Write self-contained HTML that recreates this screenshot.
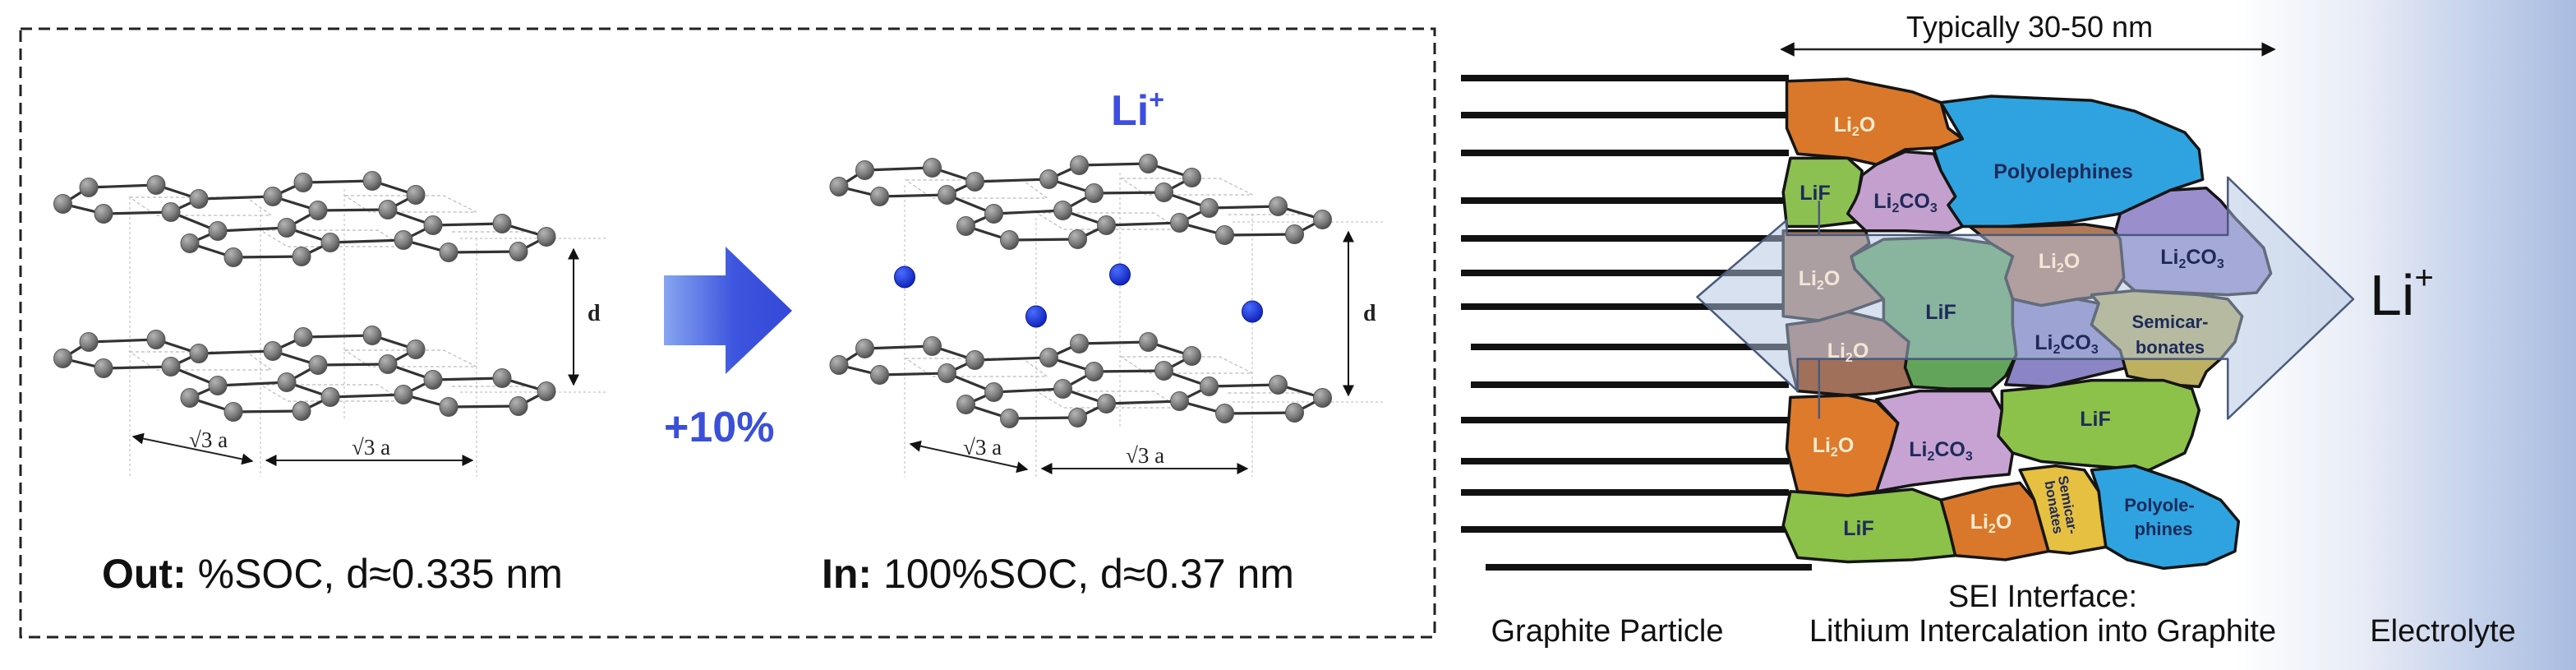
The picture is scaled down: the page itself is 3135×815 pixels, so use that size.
<!DOCTYPE html>
<html><head><meta charset="utf-8">
<style>
html,body{margin:0;padding:0;}
body{width:3135px;height:815px;overflow:hidden;position:relative;font-family:"Liberation Sans",sans-serif;
background:linear-gradient(to right,#ffffff 0px,#ffffff 2720px,#e6ebf5 2880px,#c8d4ec 3000px,#a9bce0 3135px);}
svg{position:absolute;left:0;top:0;}
</style></head>
<body>
<svg width="3135" height="815" viewBox="0 0 3135 815" xmlns="http://www.w3.org/2000/svg">
<defs>
<radialGradient id="atom" cx="0.35" cy="0.3" r="0.75">
<stop offset="0" stop-color="#b5b5b5"/><stop offset="0.6" stop-color="#7b7b7b"/><stop offset="1" stop-color="#4a4a4a"/>
</radialGradient>
<radialGradient id="li" cx="0.35" cy="0.3" r="0.75">
<stop offset="0" stop-color="#4a6cff"/><stop offset="1" stop-color="#0d20b8"/>
</radialGradient>
<linearGradient id="barr" x1="0" x2="1" y1="0" y2="0">
<stop offset="0" stop-color="#86a6f0"/><stop offset="0.55" stop-color="#3d55de"/><stop offset="1" stop-color="#3448d8"/>
</linearGradient>
<g id="layer">
<g stroke="#bbb" stroke-width="1.2" stroke-dasharray="4,3" fill="none">
<path d="M158,240 L300,240 L330,262 L190,262 Z"/>
<path d="M317,280 L460,280 L490,300 L350,300 Z"/>
<path d="M420,238 L540,238 L580,258 L450,258 Z"/>
<path d="M550,282 L660,282"/>
</g>
<g stroke="#333" stroke-width="3.2" fill="none">
<path d="M76.5,248 L108,228 L190,225 L242,242 L208,258 L126,260 Z"/>
<path d="M242,242 L332,239"/>
<path d="M332,239 L369,222 L453,220 L506,237 L472,255 L387,256 Z"/>
<path d="M208,258 L265,281"/>
<path d="M387,256 L349,277"/>
<path d="M265,281 L349,277 L402,295 L367,312 L284,313 L231,296 Z"/>
<path d="M402,295 L491,292"/>
<path d="M472,255 L527,274"/>
<path d="M491,292 L527,274 L611,272 L665,288 L631,306 L546,307 Z"/>
</g>
<g fill="url(#atom)" stroke="#555" stroke-width="1">
<ellipse cx="76.5" cy="248" rx="11" ry="11.5"/><ellipse cx="108" cy="228" rx="11" ry="11.5"/><ellipse cx="190" cy="225" rx="11" ry="11.5"/>
<ellipse cx="242" cy="242" rx="11" ry="11.5"/><ellipse cx="208" cy="258" rx="11" ry="11.5"/><ellipse cx="126" cy="260" rx="11" ry="11.5"/>
<ellipse cx="332" cy="239" rx="11" ry="11.5"/><ellipse cx="369" cy="222" rx="11" ry="11.5"/><ellipse cx="453" cy="220" rx="11" ry="11.5"/>
<ellipse cx="506" cy="237" rx="11" ry="11.5"/><ellipse cx="472" cy="255" rx="11" ry="11.5"/><ellipse cx="387" cy="256" rx="11" ry="11.5"/>
<ellipse cx="265" cy="281" rx="11" ry="11.5"/><ellipse cx="349" cy="277" rx="11" ry="11.5"/><ellipse cx="402" cy="295" rx="11" ry="11.5"/>
<ellipse cx="367" cy="312" rx="11" ry="11.5"/><ellipse cx="284" cy="313" rx="11" ry="11.5"/><ellipse cx="231" cy="296" rx="11" ry="11.5"/>
<ellipse cx="491" cy="292" rx="11" ry="11.5"/><ellipse cx="527" cy="274" rx="11" ry="11.5"/><ellipse cx="611" cy="272" rx="11" ry="11.5"/>
<ellipse cx="665" cy="288" rx="11" ry="11.5"/><ellipse cx="631" cy="306" rx="11" ry="11.5"/><ellipse cx="546" cy="307" rx="11" ry="11.5"/>
</g>
</g>
<marker id="ah" viewBox="0 0 10 10" refX="9" refY="5" markerWidth="7" markerHeight="7" orient="auto-start-reverse">
<path d="M0,0 L10,5 L0,10 Z" fill="#111"/></marker>
</defs>

<rect x="25" y="35" width="1721" height="740" fill="none" stroke="#222" stroke-width="3" stroke-dasharray="14,8"/>

<g stroke="#c4c4c4" stroke-width="1.2" stroke-dasharray="3,3" fill="none">
<path d="M158,240 V580 M317,255 V580 M419,230 V510 M580,290 V580"/>
<path d="M560,290 H740 M560,477 H740"/>
</g>
<use href="#layer"/>
<use href="#layer" transform="translate(0,188)"/>
<line x1="698" y1="303" x2="698" y2="468" stroke="#111" stroke-width="2" marker-start="url(#ah)" marker-end="url(#ah)"/>
<text x="715" y="390" font-family="Liberation Serif,serif" font-weight="bold" font-size="28" fill="#222">d</text>
<line x1="162" y1="531" x2="307" y2="561" stroke="#222" stroke-width="2" marker-start="url(#ah)" marker-end="url(#ah)"/>
<line x1="324" y1="560" x2="575" y2="560" stroke="#222" stroke-width="2" marker-start="url(#ah)" marker-end="url(#ah)"/>
<text x="230" y="544" font-family="Liberation Serif,serif" font-size="27" fill="#222">√3 a</text>
<text x="428" y="553" font-family="Liberation Serif,serif" font-size="27" fill="#222">√3 a</text>

<path d="M808,335 H883 V300 L964,378 L883,455 V420 H808 Z" fill="url(#barr)"/>
<text x="808" y="537" font-size="52" font-weight="bold" fill="#3a50d8">+10%</text>
<text x="124" y="715" font-size="50" fill="#111"><tspan font-weight="bold">Out:</tspan> %SOC, d≈0.335 nm</text>

<g stroke="#c4c4c4" stroke-width="1.2" stroke-dasharray="3,3" fill="none">
<path d="M1101,225 V580 M1261,265 V580 M1363,210 V520 M1524,260 V580"/>
<path d="M1500,270 H1685 M1500,489 H1685"/>
</g>
<use href="#layer" transform="translate(944.5,-21)"/>
<use href="#layer" transform="translate(944.5,196)"/>
<g fill="url(#li)" stroke="#0a1a90" stroke-width="1">
<ellipse cx="1101" cy="337" rx="12.5" ry="13"/><ellipse cx="1261" cy="385" rx="12.5" ry="13"/>
<ellipse cx="1363" cy="334" rx="12.5" ry="13"/><ellipse cx="1524" cy="379" rx="12.5" ry="13"/>
</g>
<line x1="1641" y1="282" x2="1641" y2="481" stroke="#111" stroke-width="2" marker-start="url(#ah)" marker-end="url(#ah)"/>
<text x="1659" y="390" font-family="Liberation Serif,serif" font-weight="bold" font-size="28" fill="#222">d</text>
<line x1="1108" y1="540" x2="1250" y2="571" stroke="#222" stroke-width="2" marker-start="url(#ah)" marker-end="url(#ah)"/>
<line x1="1268" y1="570" x2="1518" y2="570" stroke="#222" stroke-width="2" marker-start="url(#ah)" marker-end="url(#ah)"/>
<text x="1172" y="553" font-family="Liberation Serif,serif" font-size="27" fill="#222">√3 a</text>
<text x="1370" y="563" font-family="Liberation Serif,serif" font-size="27" fill="#222">√3 a</text>
<text x="1352" y="152" font-size="52" font-weight="bold" fill="#3d4ee0">Li<tspan font-size="32" dy="-20">+</tspan></text>
<text x="1000" y="715" font-size="50" fill="#111"><tspan font-weight="bold">In:</tspan> 100%SOC, d≈0.37 nm</text>

<g stroke="#111" stroke-width="8">
<line x1="1778" y1="95" x2="2177" y2="95"/><line x1="1778" y1="140" x2="2177" y2="140"/>
<line x1="1778" y1="186" x2="2177" y2="186"/><line x1="1778" y1="244" x2="2177" y2="244"/>
<line x1="1778" y1="290" x2="2177" y2="290"/><line x1="1778" y1="332" x2="2177" y2="332"/>
<line x1="1778" y1="373" x2="2177" y2="373"/><line x1="1790" y1="422" x2="2177" y2="422"/>
<line x1="1790" y1="468" x2="2177" y2="468"/><line x1="1778" y1="511" x2="2177" y2="511"/>
<line x1="1778" y1="561" x2="2177" y2="561"/><line x1="1778" y1="599" x2="2177" y2="599"/>
<line x1="1778" y1="644" x2="2177" y2="644"/><line x1="1808" y1="690" x2="2205" y2="690"/>
</g>
<line x1="2168" y1="60" x2="2768" y2="60" stroke="#222" stroke-width="2.5" marker-start="url(#ah)" marker-end="url(#ah)"/>
<text x="2470" y="45" font-size="36" text-anchor="middle" fill="#111">Typically 30-50 nm</text>

<g transform="translate(1760,0) scale(0.8727,0.5198)" stroke="#151515" stroke-width="3.5" stroke-linejoin="round">
<polygon vector-effect="non-scaling-stroke" fill="#d9782a" points="475,190 560,185 650,215 690,240 700,300 720,325 690,345 640,350 600,385 560,370 490,360 475,300"/>
<polygon vector-effect="non-scaling-stroke" fill="#2ea3e0" points="690,240 760,225 900,235 960,260 1030,310 1050,350 1055,420 1010,445 940,500 870,520 780,530 720,530 700,480 710,460 690,400 680,350 720,325"/>
<polygon vector-effect="non-scaling-stroke" fill="#8cc152" points="480,370 560,370 580,400 575,450 570,520 520,530 475,530 470,450"/>
<polygon vector-effect="non-scaling-stroke" fill="#c3a0cd" points="575,450 580,410 600,385 640,355 680,360 690,400 710,460 700,480 720,530 700,545 640,540 585,540 560,500 570,470"/>
<polygon vector-effect="non-scaling-stroke" fill="#9a8fcc" points="940,500 1010,445 1060,440 1080,470 1100,510 1140,580 1150,640 1130,685 1090,690 960,680 940,650 930,560"/>
<polygon vector-effect="non-scaling-stroke" fill="#b07a5a" points="730,530 800,530 890,525 930,535 940,560 945,650 930,690 880,700 830,715 790,700 780,650 790,600 760,570"/>
<polygon vector-effect="non-scaling-stroke" fill="#a87a62" points="470,540 585,540 590,570 565,600 570,630 600,660 610,700 560,730 520,750 470,740"/>
<polygon vector-effect="non-scaling-stroke" fill="#62a55a" points="565,600 610,560 700,555 760,570 790,600 780,650 790,700 790,760 795,830 780,880 760,910 700,910 650,905 640,860 645,800 610,750 610,700 570,630"/>
<polygon vector-effect="non-scaling-stroke" fill="#a0705a" points="475,760 520,750 560,730 610,750 645,800 640,860 650,905 600,920 560,925 490,915 480,850"/>
<polygon vector-effect="non-scaling-stroke" fill="#8b85c6" points="790,700 830,715 880,700 910,710 900,760 940,820 950,860 900,880 840,905 780,900 795,830 790,760"/>
<polygon vector-effect="non-scaling-stroke" fill="#bdb060" points="900,690 960,680 1050,690 1090,700 1110,740 1100,800 1080,840 1060,870 1050,905 1010,900 950,880 940,820 900,760 910,710"/>
<polygon vector-effect="non-scaling-stroke" fill="#dd7a2c" points="480,930 560,925 600,940 630,990 620,1050 610,1100 600,1150 560,1160 490,1150 475,1050"/>
<polygon vector-effect="non-scaling-stroke" fill="#c7a3d3" points="600,935 660,915 760,915 775,960 770,1020 790,1060 785,1110 720,1120 650,1135 600,1150 610,1100 620,1050 630,990"/>
<polygon vector-effect="non-scaling-stroke" fill="#8cc14a" points="775,915 840,905 900,890 1000,890 1040,910 1050,960 1040,1020 1030,1060 980,1100 900,1090 830,1080 790,1060 770,1020 775,960"/>
<polygon vector-effect="non-scaling-stroke" fill="#8cc14a" points="480,1150 560,1160 650,1145 690,1170 700,1230 710,1300 650,1310 560,1315 490,1305 470,1230"/>
<polygon vector-effect="non-scaling-stroke" fill="#d9782a" points="690,1170 760,1140 800,1130 820,1170 830,1230 840,1290 780,1310 710,1300 700,1230"/>
<polygon vector-effect="non-scaling-stroke" fill="#e6c040" points="800,1100 850,1090 890,1100 910,1150 915,1220 920,1280 870,1295 840,1290 830,1230 820,1170"/>
<polygon vector-effect="non-scaling-stroke" fill="#2ea3e0" points="900,1100 960,1090 1030,1130 1080,1170 1105,1220 1100,1290 1060,1320 1000,1330 950,1310 920,1280 915,1220 910,1150"/>
<polygon vector-effect="non-scaling-stroke" fill="rgba(175,195,225,0.5)" stroke="#4a5a7a" stroke-width="2.5" points="350,695 475,515 475,550 1090,550 1090,415 1265,700 1090,980 1090,840 490,840 490,915"/>
<path vector-effect="non-scaling-stroke" d="M520,470 V550 M520,840 V980" stroke="#4a5a7a" stroke-width="2.5" fill="none"/>
</g>

<g font-size="25" font-weight="bold" text-anchor="middle" fill="#1e2a5a">
<text x="2257" y="160" fill="#f8ecd0">Li<tspan font-size="16" dy="5">2</tspan><tspan dy="-5">O</tspan></text>
<text x="2511" y="217">Polyolephines</text>
<text x="2209" y="243">LiF</text>
<text x="2319" y="253">Li<tspan font-size="16" dy="5">2</tspan><tspan dy="-5">CO</tspan><tspan font-size="16" dy="5">3</tspan></text>
<text x="2668" y="321">Li<tspan font-size="16" dy="5">2</tspan><tspan dy="-5">CO</tspan><tspan font-size="16" dy="5">3</tspan></text>
<text x="2506" y="326" fill="#f3e6d6">Li<tspan font-size="16" dy="5">2</tspan><tspan dy="-5">O</tspan></text>
<text x="2214" y="347" fill="#f3e6d6">Li<tspan font-size="16" dy="5">2</tspan><tspan dy="-5">O</tspan></text>
<text x="2362" y="388">LiF</text>
<text x="2249" y="435" fill="#f3e6d6">Li<tspan font-size="16" dy="5">2</tspan><tspan dy="-5">O</tspan></text>
<text x="2515" y="425">Li<tspan font-size="16" dy="5">2</tspan><tspan dy="-5">CO</tspan><tspan font-size="16" dy="5">3</tspan></text>
<text x="2641" y="399" font-size="22">Semicar-</text>
<text x="2641" y="430" font-size="22">bonates</text>
<text x="2231" y="550" fill="#f8ecd0">Li<tspan font-size="16" dy="5">2</tspan><tspan dy="-5">O</tspan></text>
<text x="2362" y="555">Li<tspan font-size="16" dy="5">2</tspan><tspan dy="-5">CO</tspan><tspan font-size="16" dy="5">3</tspan></text>
<text x="2550" y="518">LiF</text>
<text x="2262" y="651">LiF</text>
<text x="2423" y="643" fill="#f8ecd0">Li<tspan font-size="16" dy="5">2</tspan><tspan dy="-5">O</tspan></text>
<text x="0" y="0" font-size="17" transform="translate(2511,615) rotate(80)">Semicar-</text>
<text x="0" y="0" font-size="17" transform="translate(2494,618) rotate(80)">bonates</text>
<text x="2628" y="622" font-size="22">Polyole-</text>
<text x="2633" y="651" font-size="22">phines</text>
</g>

<text x="2884" y="383" font-size="70" fill="#111">Li<tspan font-size="40" dy="-32">+</tspan></text>
<g font-size="38" text-anchor="middle" fill="#111">
<text x="1956" y="780">Graphite Particle</text>
<text x="2486" y="738">SEI Interface:</text>
<text x="2486" y="780">Lithium Intercalation into Graphite</text>
<text x="2973" y="780">Electrolyte</text>
</g>
</svg>
</body></html>
